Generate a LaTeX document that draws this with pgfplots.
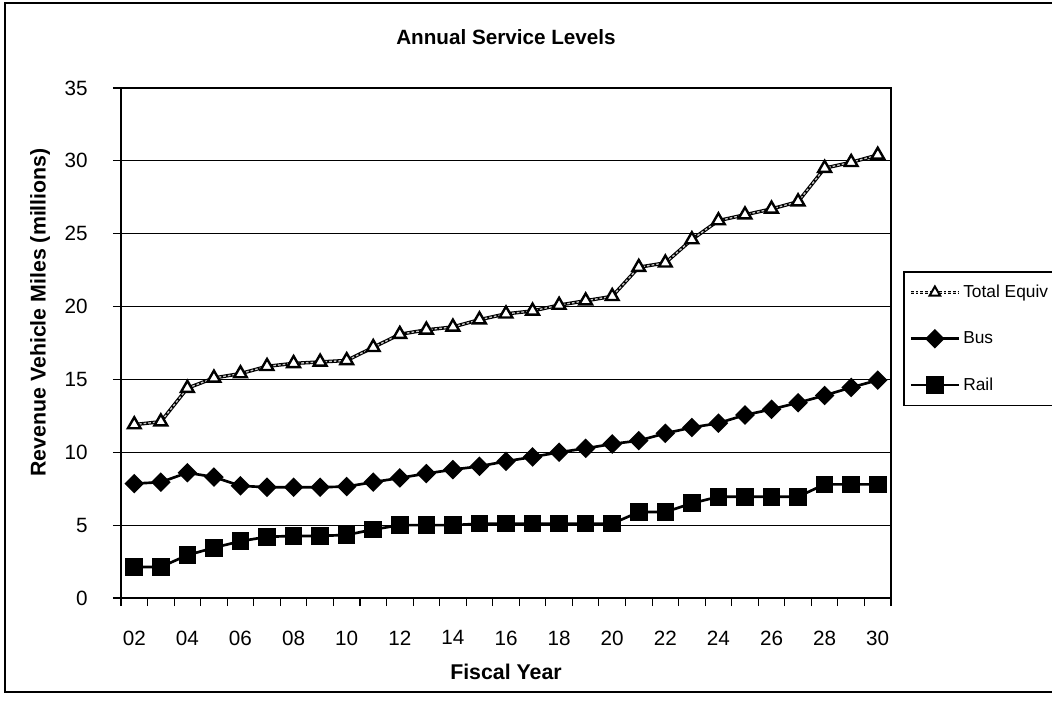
\documentclass[border=0pt]{standalone}
\usepackage{fontspec}
\setmainfont{Liberation Sans}
\usepackage{pgfplots}
\usepackage{pgfplotstable}
\pgfplotsset{compat=1.18}

% Revenue vehicle miles (millions) by fiscal year
\pgfplotstableread{
year total bus  rail
2    11.9  7.85 2.13
3    12.1  7.95 2.13
4    14.4  8.6  2.94
5    15.1  8.3  3.45
6    15.4  7.7  3.9
7    15.9  7.6  4.2
8    16.1  7.6  4.26
9    16.2  7.6  4.26
10   16.3  7.65 4.33
11   17.2  7.95 4.7
12   18.1  8.24 5.0
13   18.4  8.54 5.0
14   18.6  8.81 5.0
15   19.1  9.04 5.1
16   19.5  9.38 5.1
17   19.7  9.68 5.1
18   20.1  10.0 5.1
19   20.4  10.27 5.1
20   20.7  10.57 5.1
21   22.7  10.8 5.9
22   23.0  11.3 5.9
23   24.6  11.7 6.5
24   25.9  12.0 6.95
25   26.3  12.56 6.95
26   26.7  12.95 6.95
27   27.2  13.4 6.95
28   29.5  13.9 7.8
29   29.9  14.45 7.8
30   30.4  14.95 7.8
}\servicedata

\begin{document}
\begin{tikzpicture}
\useasboundingbox (0,0) rectangle (789pt,525pt);
% chart frame
\draw[line width=1.5pt] (3.75pt,522.75pt) rectangle (800pt,6pt);
\node[font=\fontsize{15.5}{19}\selectfont\bfseries] at (379.5pt,497pt) {Annual Service Levels};
\begin{axis}[
  at={(90.75pt,76.5pt)}, anchor=south west,
  width=577.5pt, height=382.5pt, scale only axis,
  xmin=1.5, xmax=30.5, ymin=0, ymax=35,
  ytick={0,5,...,35},
  xtick={2,4,...,30},
  xticklabels={02,04,06,08,10,12,14,16,18,20,22,24,26,28,30},
  minor xtick={1.5,2.5,...,30.5},
  xtick pos=bottom, ytick pos=left,
  tick align=outside,
  major tick length=6pt, minor tick length=6pt,
  every major x tick/.append style={draw=none},
  tick style={black, line width=0.8pt},
  ymajorgrids,
  major grid style={black, line width=0.8pt},
  axis line style={black, line width=1.4pt},
  ticklabel style={font=\fontsize{15.5}{18}\selectfont},
  /pgf/number format/assume math mode=true,
  xticklabel shift=15pt,
  yticklabel shift=15.5pt,
  xlabel={Fiscal Year},
  ylabel={Revenue Vehicle Miles (millions)},
  label style={font=\fontsize{16}{19}\selectfont\bfseries},
  xlabel style={at={(axis description cs:0.5,-0.145)}, anchor=center},
  ylabel style={at={(axis description cs:-0.105,0.56)}, anchor=center},
  legend style={at={(axis description cs:1.0156,0.641)}, anchor=north west,
    draw=black, line width=1.2pt, font=\fontsize{13}{15}\selectfont,
    row sep=20pt, inner xsep=4pt, inner ysep=8pt},
  legend cell align=left,
  legend image code/.code={
    \draw[mark repeat=2,mark phase=2,#1] plot coordinates {(0pt,0pt) (18pt,0pt) (36pt,0pt)};
  },
]
% total equivalent: dark line with light dashes through it
\addplot[black, line width=2.6pt, forget plot] table[x=year,y=total]{\servicedata};
\addplot[gray!45, line width=1pt, dash pattern=on 2pt off 1.5pt,
  mark=triangle*, mark size=5.5pt,
  mark options={solid, fill=white, draw=black, line width=1.8pt},
  legend image code/.code={
    \draw[black, line width=2.6pt] (0pt,0pt) -- (36pt,0pt);
    \draw[gray!45, line width=1pt, dash pattern=on 2pt off 1.5pt] (0pt,0pt) -- (36pt,0pt);
    \draw[mark=triangle*, mark size=4.5pt, mark options={solid, fill=white, draw=black, line width=1.5pt}] plot coordinates {(18pt,0pt)};
  }] table[x=year,y=total]{\servicedata};
\addlegendentry{Total Equiv}
\addplot[black, line width=2pt, mark=square*, mark size=4.2pt,
  mark options={rotate=45, fill=black}] table[x=year,y=bus]{\servicedata};
\addlegendentry{Bus}
\addplot[black, line width=2pt, mark=square*, mark size=5.6pt,
  mark options={fill=black}] table[x=year,y=rail]{\servicedata};
\addlegendentry{Rail}
\end{axis}
\end{tikzpicture}
\end{document}
